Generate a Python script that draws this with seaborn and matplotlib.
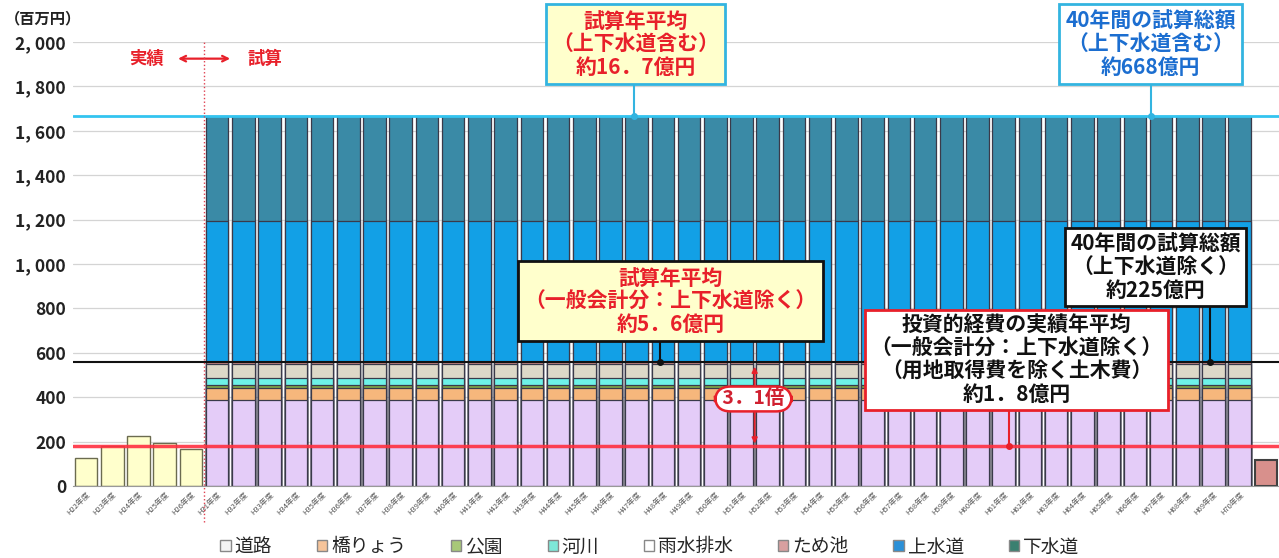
"""
公共施設（インフラ）の更新費用試算グラフ
"""

import numpy as np
import matplotlib
matplotlib.use('Agg')  # GUIなし
import matplotlib.pyplot as plt
from matplotlib.patches import Patch
import seaborn as sns

# 実績（投資的経費）
actual_years = ['H22年度', 'H23年度', 'H24年度', 'H25年度', 'H26年度']
actual_values = [125, 182, 227, 192, 167]

# 試算（H31〜H70、毎年同額）
est_years = ['H31年度', 'H32年度', 'H33年度', 'H34年度', 'H35年度', 'H36年度',
             'H37年度', 'H38年度', 'H39年度', 'H40年度', 'H41年度', 'H42年度',
             'H43年度', 'H44年度', 'H45年度', 'H46年度', 'H47年度', 'H48年度',
             'H49年度', 'H50年度', 'H51年度', 'H52年度', 'H53年度', 'H54年度',
             'H55年度', 'H56年度', 'H57年度', 'H58年度', 'H59年度', 'H60年度',
             'H61年度', 'H62年度', 'H63年度', 'H64年度', 'H65年度', 'H66年度',
             'H67年度', 'H68年度', 'H69年度', 'H70年度']
layer_names = ['道路', '橋りょう', '公園', '河川', '雨水排水', 'ため池', '上水道', '下水道']
layer_values = [388, 55, 12, 30, 65, 10, 635, 470]   # 百万円/年
layer_colors = ['#E4CCF8', '#F6B77C', '#7FA448', '#6EF2E8', '#DDD8C8',
                '#D8908C', '#12A0E6', '#3A8AA6']
legend_colors = ['#F4F4F4', '#F6C49A', '#A8C878', '#7EE8D8', '#FFFFFF',
                 '#D8A0A0', '#2A90D8', '#3A8070']

# 右端のバー（ため池）
extra_label = ' '
extra_value = 118

actual_color = '#FFFFCC'

cats = actual_years + est_years + [extra_label]
n_act = len(actual_years)
n_est = len(est_years)

sns.set_style('white')
plt.rcParams['font.family'] = ['Noto Sans CJK JP', 'DejaVu Sans']

fig = plt.figure(figsize=(12.79, 5.58), dpi=100)
ax = fig.add_axes([73 / 1279, 1 - 486 / 558, (1279 - 73) / 1279, (486 - 42) / 558])

bar_kw = dict(order=cats, saturation=1, width=0.86, errorbar=None, ax=ax)

# 試算分：累積値を上の層から順に重ね描き
cum = np.cumsum(layer_values)
for i in range(len(layer_names) - 1, -1, -1):
    heights = [np.nan] * n_act + [cum[i]] * n_est + [np.nan]
    sns.barplot(x=cats, y=heights, color=layer_colors[i],
                edgecolor='#3A3A4A', linewidth=0.9, **bar_kw)

# 実績分
heights = actual_values + [np.nan] * (n_est + 1)
sns.barplot(x=cats, y=heights, color=actual_color,
            edgecolor='#6B6B50', linewidth=1.0, **bar_kw)

# 右端
heights = [np.nan] * (n_act + n_est) + [extra_value]
sns.barplot(x=cats, y=heights, color='#D8908C',
            edgecolor='#404040', linewidth=1.5, **bar_kw)

total_all = cum[-1]
total_general = cum[5]
actual_mean = np.mean(actual_values)

ax.set_xlim(-0.5, len(cats) - 0.5)
ax.set_ylim(0, 2000)
ax.set_yticks(range(0, 2001, 200))
ax.set_yticklabels([f'{v:,}'.replace(',', ', ') for v in range(0, 2001, 200)],
                   fontsize=12.5, color='#222222', fontweight='bold')
ax.set_xticks(range(len(cats)))
ax.set_xticklabels(cats, rotation=45, ha='right', rotation_mode='anchor',
                   fontsize=5.5, color='#555555')
ax.tick_params(axis='x', length=0, pad=3)
ax.tick_params(axis='y', length=0, pad=5)
ax.set_xlabel('')
ax.set_ylabel('')
ax.yaxis.grid(True, color='#D4D4D4', linewidth=0.9)
ax.set_axisbelow(True)
for s in ['top', 'right', 'left']:
    ax.spines[s].set_visible(False)
ax.spines['bottom'].set_color('#999999')

# 平均線
ax.axhline(total_all, color='#33C4F0', linewidth=2.0, zorder=5)
ax.axhline(total_general, color='#111111', linewidth=1.5, zorder=5)
ax.axhline(actual_mean, color='#FF3040', linewidth=2.5, alpha=0.9, zorder=5)

# 実績／試算の境界
ax.axvline(n_act - 0.5, ymin=-0.08, ymax=1, color='#E04050', linestyle=':',
           linewidth=1.0, clip_on=False, zorder=6)

fig.text(5 / 1279, 1 - 18 / 558, '（百万円）', fontsize=11, color='#222222',
         fontweight='bold', va='center')

# 実績 ⟷ 試算
ax.text(2.3, 1925, '実績', color='#E8202A', fontsize=12.5, fontweight='bold',
        ha='center', va='center')
ax.text(6.8, 1925, '試算', color='#E8202A', fontsize=12.5, fontweight='bold',
        ha='center', va='center')
ax.annotate('', xy=(3.4, 1925), xytext=(5.6, 1925),
            arrowprops=dict(arrowstyle='<->', color='#E8202A', lw=1.6))

box_kw = dict(ha='center', va='center', fontsize=15, fontweight='bold',
              linespacing=1.12, multialignment='center', zorder=10, clip_on=False)

def connector(x, y0, y1, color):
    ax.plot([x, x], [y0, y1], color=color, linewidth=1.5, zorder=9, clip_on=False)
    ax.plot([x], [y1], 'o', color=color, markersize=4, zorder=9, clip_on=False)

# 上段の枠
connector(20.9, 1840, total_all, '#33B4E0')
ax.text(20.95, 1990, '試算年平均\n（上下水道含む）\n約16．7億円', color='#E8202A',
        bbox=dict(boxstyle='square,pad=0.3', fc='#FFFFCC', ec='#33B4E0', lw=2), **box_kw)

connector(40.6, 1840, total_all, '#33B4E0')
ax.text(40.6, 1990, '40年間の試算総額\n（上下水道含む）\n約668億円', color='#1C6ED0',
        bbox=dict(boxstyle='square,pad=0.3', fc='white', ec='#33B4E0', lw=2), **box_kw)

# 中段の枠
connector(21.9, 700, total_general, '#111111')
ax.text(22.3, 833, '試算年平均\n（一般会計分：上下水道除く）\n約5．6億円', color='#E8202A',
        bbox=dict(boxstyle='square,pad=0.3', fc='#FFFFCC', ec='#111111', lw=2), **box_kw)

connector(42.85, 860, total_general, '#111111')
ax.text(40.8, 986, '40年間の試算総額\n（上下水道除く）\n約225億円', color='#111111',
        bbox=dict(boxstyle='square,pad=0.25', fc='white', ec='#111111', lw=2), **box_kw)

connector(35.2, 380, actual_mean, '#E8202A')
ax.text(35.5, 568, '投資的経費の実績年平均\n（一般会計分：上下水道除く）\n（用地取得費を除く土木費）\n約1．8億円',
        color='#111111',
        bbox=dict(boxstyle='square,pad=0.25', fc='white', ec='#E8202A', lw=2), **box_kw)

# 3.1倍
ax.annotate('', xy=(25.5, total_general - 10), xytext=(25.5, actual_mean),
            arrowprops=dict(arrowstyle='<|-|>', color='#E8202A', lw=1.3,
                            mutation_scale=8), zorder=9)
ax.text(25.45, 392, ' 3．1倍 ', color='#D02030', ha='center', va='center',
        fontsize=14, fontweight='bold', zorder=10,
        bbox=dict(boxstyle='round,pad=0.15,rounding_size=0.8', fc='white',
                  ec='#E8202A', lw=1.8))

# 凡例
handles = [Patch(facecolor=c, edgecolor='#888888', linewidth=1.0) for c in legend_colors]
fig.legend(handles, layer_names, loc='center', bbox_to_anchor=(0.508, 0.02),
           ncol=8, frameon=False, fontsize=13.5, handlelength=0.55, handleheight=0.55,
           handletextpad=0.2, columnspacing=2.4)

fig.savefig('out.png', dpi=100)
plt.close(fig)
